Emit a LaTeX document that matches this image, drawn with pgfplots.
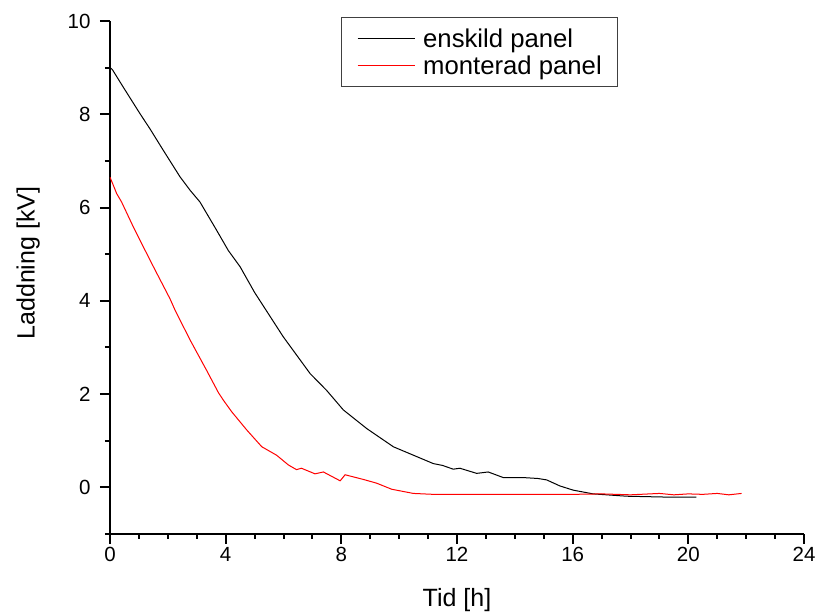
\documentclass[border=0pt]{standalone}
\usepackage{fontspec}
\setmainfont{Liberation Sans}
\usepackage{pgfplots}
\pgfplotsset{compat=1.18}

\pgfplotstableread{
x y
0.00 9.00
0.08 8.96
0.46 8.58
1.04 8.01
1.38 7.69
1.84 7.23
2.42 6.66
2.77 6.37
3.11 6.12
3.69 5.51
4.09 5.08
4.50 4.73
5.00 4.18
5.99 3.23
6.92 2.44
7.49 2.08
8.07 1.66
8.88 1.26
9.80 0.87
10.49 0.69
11.18 0.51
11.50 0.47
11.87 0.39
12.10 0.41
12.68 0.30
13.08 0.33
13.60 0.21
14.29 0.21
14.80 0.19
15.10 0.16
15.56 0.03
16.02 -0.06
16.71 -0.14
17.87 -0.19
19.36 -0.21
20.28 -0.21
}\enskild

\pgfplotstableread{
x y
0.00 6.65
0.10 6.50
0.23 6.30
0.40 6.12
0.81 5.58
1.15 5.16
1.56 4.66
2.07 4.05
2.25 3.80
2.77 3.16
3.34 2.51
3.75 2.03
3.92 1.87
4.21 1.62
4.73 1.23
5.25 0.87
5.76 0.69
6.17 0.48
6.45 0.38
6.62 0.41
7.09 0.29
7.38 0.33
7.96 0.14
8.13 0.27
8.76 0.17
9.22 0.09
9.74 -0.04
10.49 -0.13
11.18 -0.15
16.00 -0.15
17.00 -0.14
18.00 -0.16
19.00 -0.13
19.50 -0.16
20.00 -0.14
20.50 -0.15
21.00 -0.13
21.40 -0.16
21.84 -0.13
}\monterad

\begin{document}
\begin{tikzpicture}
\begin{axis}[
    scale only axis,
    width=694pt, height=513pt,
    xmin=0, xmax=24, ymin=-1, ymax=10,
    axis x line=bottom, axis y line=left,
    axis line style={-, line width=2.4pt},
    every tick/.style={black, line width=2pt},
    tick align=outside,
    major tick length=10pt, minor tick length=5pt,
    xtick={0,4,...,24}, minor xtick={1,2,3,5,6,7,9,10,11,13,14,15,17,18,19,21,22,23},
    ytick={0,2,...,10}, minor ytick={-1,1,3,5,7,9},
    /pgf/number format/assume math mode=true,
    tick label style={font=\fontsize{20.5}{24}\selectfont},
    yticklabel style={xshift=-6pt},
    label style={font=\fontsize{25}{30}\selectfont},
    xlabel={Tid [h]}, ylabel={Laddning [kV]},
    xlabel style={at={(axis description cs:0.5,-0.1287)}, anchor=center},
    ylabel style={at={(axis description cs:-0.118,0.528)}, anchor=center, rotate=0},
    legend style={at={(axis description cs:0.333,1.008)}, anchor=north west,
        draw=black!75, line width=1.2pt, font=\fontsize{25.7}{30}\selectfont,
        inner xsep=15.5pt, inner ysep=11pt, nodes={inner sep=0pt},
        column sep=8pt, row sep=7pt},
    legend cell align=left,
    legend image code/.code={\draw[#1, line width=1pt] (0pt,0pt) -- (57pt,0pt);},
]
\addplot[black, line width=1pt] table {\enskild};
\addlegendentry{enskild panel}
\addplot[red, line width=1pt] table {\monterad};
\addlegendentry{monterad panel}
\end{axis}
\pgfresetboundingbox
\useasboundingbox (-110pt,-81pt) rectangle (707pt,534pt);
\end{tikzpicture}
\end{document}
